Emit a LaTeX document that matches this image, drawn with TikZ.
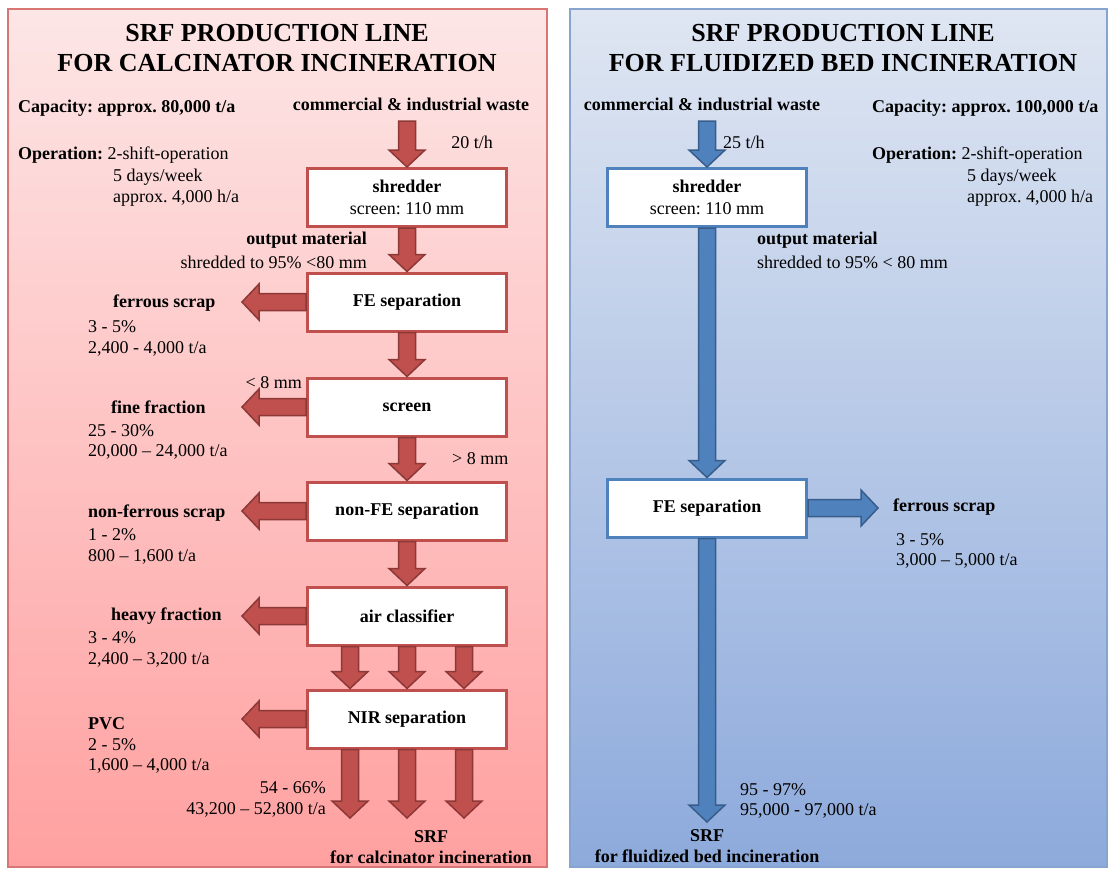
\documentclass[tikz,border=0pt]{standalone}
\usepackage{fontspec}
\setmainfont{Liberation Serif}
\usetikzlibrary{calc}
\frenchspacing
\definecolor{redfill}{HTML}{C0504D}
\definecolor{redline}{HTML}{8C3836}
\definecolor{bluefill}{HTML}{4F81BD}
\definecolor{blueline}{HTML}{385D8A}
\definecolor{redtop}{HTML}{FDE6E6}
\definecolor{redbottom}{HTML}{FFA0A0}
\definecolor{bluetop}{HTML}{DFE6F2}
\definecolor{bluebottom}{HTML}{8DAADC}
\definecolor{redframe}{HTML}{D87575}
\definecolor{blueframe}{HTML}{86A4CE}
\newcommand{\fs}{\fontsize{18}{21.5}\selectfont}
\newcommand{\blockflow}[3]{%
    \draw[#1] let \p1=#2, \p2=#3,
        \n1={atan2(\y2-\y1,\x2-\x1)}, \n2={veclen(\x2-\x1,\y2-\y1)} in
        [shift={(\p1)}, rotate=\n1]
        (0pt,-8.5pt) -- (\n2-17pt,-8.5pt) -- (\n2-17pt,-18pt) -- (\n2,0pt)
        -- (\n2-17pt,18pt) -- (\n2-17pt,8.5pt) -- (0pt,8.5pt) -- cycle;
}
\tikzset{
  head/.style={font=\bfseries\fontsize{26}{30}\selectfont, align=center, inner sep=0pt},
  txt/.style={font=\fs, inner sep=0pt},
  btxt/.style={font=\fs\bfseries, inner sep=0pt},
  box/.style={draw=#1, fill=white, line width=3pt, minimum width=199pt,
              minimum height=58pt, align=center, font=\fs, inner sep=0pt},
  redbox/.style={box=redfill},
  bluebox/.style={box=bluefill},
  flowred/.style={fill=redfill, draw=redline, line width=1.5pt, line join=miter},
  flowblue/.style={fill=bluefill, draw=blueline, line width=1.5pt, line join=miter}
}
\begin{document}
\begin{tikzpicture}[x=1pt, y=-1pt]
\useasboundingbox (0,0) rectangle (1109,871);
\path[draw=redframe, line width=1.5pt, top color=redtop, bottom color=redbottom] (8,9) rectangle (547,867);
\path[draw=blueframe, line width=1.5pt, top color=bluetop, bottom color=bluebottom] (570,9) rectangle (1107,867);

% calcinator line
\node[head] (ltitle) at (277,48) {SRF PRODUCTION LINE\\FOR CALCINATOR INCINERATION};
\node[btxt, anchor=west] (lcap) at (18,108) {Capacity: approx. 80,000 t/a};
\node[txt, anchor=west] (lop) at (18,155) {\textbf{Operation:} 2-shift-operation};
\node[txt, anchor=west] (ldays) at (113,177) {5 days/week};
\node[txt, anchor=west] (lhours) at (113,198) {approx. 4,000 h/a};
\node[btxt] (lwaste) at (411,104) {commercial \& industrial waste};
\coordinate (lin) at (407,121);
\node[txt] (lrate) at (472,142) {20 t/h};
\node[redbox] (lshred) at (407,197.5) {\textbf{shredder}\\screen: 110 mm};
\node[btxt, anchor=east] (lout) at (367,240) {output material};
\node[txt, anchor=east] (loutsize) at (367,262) {shredded to 95\% <80 mm};
\node[redbox] (lfe) at (407,302) {\textbf{FE separation}};
\node[btxt, anchor=west] (lferrous) at (113,303) {ferrous scrap};
\node[txt, anchor=west] (lferrousp) at (88,327) {3 - 5\%};
\node[txt, anchor=west] (lferroust) at (88,349) {2,400 - 4,000 t/a};
\node[redbox] (lscreen) at (407,407) {\textbf{screen}};
\node[txt, anchor=east] (lsmall) at (302,383) {< 8 mm};
\node[txt, anchor=west] (lbig) at (452,459) {> 8 mm};
\node[btxt, anchor=west] (lfine) at (111,407) {fine fraction};
\node[txt, anchor=west] (lfinep) at (88,431) {25 - 30\%};
\node[txt, anchor=west] (lfinet) at (88,452) {20,000 -- 24,000 t/a};
\node[redbox] (lnonfe) at (407,511) {\textbf{non-FE separation}};
\node[btxt, anchor=west] (lnonferrous) at (88,513) {non-ferrous scrap};
\node[txt, anchor=west] (lnonferrousp) at (88,535) {1 - 2\%};
\node[txt, anchor=west] (lnonferroust) at (88,557) {800 -- 1,600 t/a};
\node[redbox] (lair) at (407,616) {\textbf{air classifier}};
\node[btxt, anchor=west] (lheavy) at (111,616) {heavy fraction};
\node[txt, anchor=west] (lheavyp) at (88,638) {3 - 4\%};
\node[txt, anchor=west] (lheavyt) at (88,660) {2,400 -- 3,200 t/a};
\node[redbox] (lnir) at (407,719) {\textbf{NIR separation}};
\node[btxt, anchor=west] (lpvc) at (88,724) {PVC};
\node[txt, anchor=west] (lpvcp) at (88,745) {2 - 5\%};
\node[txt, anchor=west] (lpvct) at (88,766) {1,600 -- 4,000 t/a};
\node[txt, anchor=east] (lsrfp) at (326,788) {54 - 66\%};
\node[txt, anchor=east] (lsrft) at (326,810) {43,200 -- 52,800 t/a};
\node[btxt, align=center] (lsrf) at (431,847) {SRF\\for calcinator incineration};
\coordinate (lferrousend) at (242,302);
\coordinate (lfineend) at (242,407);
\coordinate (lnonferrousend) at (242,511);
\coordinate (lheavyend) at (242,616);
\coordinate (lpvcend) at (242,719);
\coordinate (lsrf1) at (350,818);
\coordinate (lsrf2) at (407,818);
\coordinate (lsrf3) at (464,818);

\blockflow{flowred}{(lin)}{(lshred.north)}
\blockflow{flowred}{(lshred.south)}{(lfe.north)}
\blockflow{flowred}{(lfe.south)}{(lscreen.north)}
\blockflow{flowred}{(lscreen.south)}{(lnonfe.north)}
\blockflow{flowred}{(lnonfe.south)}{(lair.north)}
\blockflow{flowred}{([xshift=-57pt]lair.south)}{([xshift=-57pt]lnir.north)}
\blockflow{flowred}{(lair.south)}{(lnir.north)}
\blockflow{flowred}{([xshift=57pt]lair.south)}{([xshift=57pt]lnir.north)}
\blockflow{flowred}{([xshift=-57pt]lnir.south)}{(lsrf1)}
\blockflow{flowred}{(lnir.south)}{(lsrf2)}
\blockflow{flowred}{([xshift=57pt]lnir.south)}{(lsrf3)}
\blockflow{flowred}{(lfe.west)}{(lferrousend)}
\blockflow{flowred}{(lscreen.west)}{(lfineend)}
\blockflow{flowred}{(lnonfe.west)}{(lnonferrousend)}
\blockflow{flowred}{(lair.west)}{(lheavyend)}
\blockflow{flowred}{(lnir.west)}{(lpvcend)}

% fluidized bed line
\node[head] (rtitle) at (843,48) {SRF PRODUCTION LINE\\FOR FLUIDIZED BED INCINERATION};
\node[btxt] (rwaste) at (702,104) {commercial \& industrial waste};
\node[btxt, anchor=west] (rcap) at (872,108) {Capacity: approx. 100,000 t/a};
\node[txt, anchor=west] (rop) at (872,155) {\textbf{Operation:} 2-shift-operation};
\node[txt, anchor=west] (rdays) at (967,177) {5 days/week};
\node[txt, anchor=west] (rhours) at (967,198) {approx. 4,000 h/a};
\coordinate (rin) at (707,121);
\node[txt, anchor=west] (rrate) at (723,142) {25 t/h};
\node[bluebox] (rshred) at (707,197.5) {\textbf{shredder}\\screen: 110 mm};
\node[btxt, anchor=west] (rout) at (757,240) {output material};
\node[txt, anchor=west] (routsize) at (757,262) {shredded to 95\% < 80 mm};
\node[bluebox] (rfe) at (707,508) {\textbf{FE separation}};
\node[btxt, anchor=west] (rferrous) at (893,507) {ferrous scrap};
\node[txt, anchor=west] (rferrousp) at (896,540) {3 - 5\%};
\node[txt, anchor=west] (rferroust) at (896,561) {3,000 -- 5,000 t/a};
\node[txt, anchor=west] (rsrfp) at (740,790) {95 - 97\%};
\node[txt, anchor=west] (rsrft) at (740,811) {95,000 - 97,000 t/a};
\node[btxt, align=center] (rsrf) at (707,846) {SRF\\for fluidized bed incineration};
\coordinate (rferrousend) at (878,508);
\coordinate (rsrfend) at (707,822);

\blockflow{flowblue}{(rin)}{(rshred.north)}
\blockflow{flowblue}{(rshred.south)}{(rfe.north)}
\blockflow{flowblue}{(rfe.east)}{(rferrousend)}
\blockflow{flowblue}{(rfe.south)}{(rsrfend)}
\end{tikzpicture}
\end{document}
